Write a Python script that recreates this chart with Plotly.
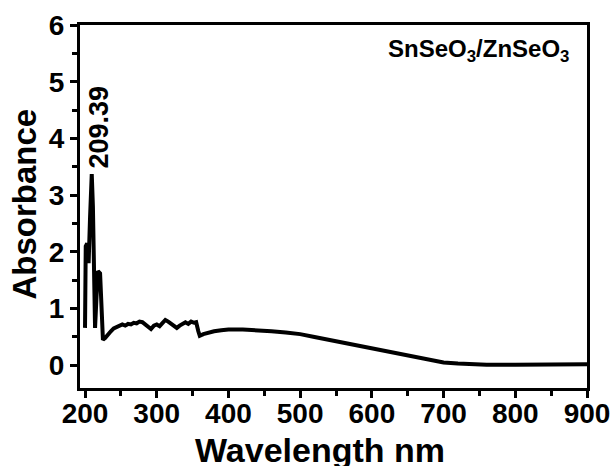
import plotly.graph_objects as go

wavelength = [200, 201, 203, 205, 207, 209.39, 211, 213, 214, 216, 218, 221, 223, 225,
              228, 232, 236, 240, 244, 248, 252, 256, 260, 264, 268, 272, 276, 280, 284,
              288, 292, 296, 300, 304, 308, 312, 316, 320, 324, 328, 332, 336, 340, 344,
              348, 352, 355, 358, 360, 365, 370, 380, 390, 400, 420, 440, 460, 480, 500,
              520, 540, 560, 580, 600, 620, 640, 660, 680, 700, 720, 740, 760, 800, 850,
              880, 890, 900]
absorbance = [0.66, 2.1, 2.15, 1.8, 2.6, 3.37, 2.8, 1.2, 0.66, 1.2, 1.66, 1.62, 0.9, 0.45,
              0.48, 0.55, 0.6, 0.65, 0.68, 0.7, 0.72, 0.7, 0.73, 0.72, 0.75, 0.74, 0.77, 0.76, 0.72,
              0.66, 0.64, 0.7, 0.72, 0.69, 0.76, 0.8, 0.77, 0.73, 0.7, 0.66, 0.7, 0.74, 0.76, 0.73,
              0.77, 0.75, 0.76, 0.6, 0.52, 0.55, 0.57, 0.6, 0.62, 0.63, 0.63, 0.62, 0.6, 0.58, 0.55,
              0.5, 0.45, 0.4, 0.35, 0.29, 0.24, 0.19, 0.14, 0.09, 0.05, 0.03, 0.02, 0.01, 0.01, 0.01,
              0.02, 0.015, 0.02]

peak_label = "209.39"
sample_label = "SnSeO<sub>3</sub>/ZnSeO<sub>3</sub>"
x_title = "Wavelength nm"
y_title = "Absorbance"
x_ticks = [200, 300, 400, 500, 600, 700, 800, 900]
y_ticks = [0, 1, 2, 3, 4, 5, 6]

FONT = "Liberation Sans, Arial, sans-serif"

fig = go.Figure()
fig.add_trace(go.Scatter(x=wavelength, y=absorbance, mode="lines",
                         line=dict(color="black", width=4), showlegend=False))

fig.add_annotation(x=220, y=4.2, xref="x", yref="y", text="<b>" + peak_label + "</b>", textangle=-90,
                   showarrow=False, font=dict(family=FONT, size=27, color="black"))
fig.add_annotation(x=0.968, y=0.93, xref="paper", yref="paper", text="<b>" + sample_label + "</b>",
                   showarrow=False, xanchor="right", yanchor="middle",
                   font=dict(family=FONT, size=24, color="black"))
# axis titles
fig.add_annotation(x=0.473, y=0, xref="paper", yref="paper", yshift=-62, text="<b>" + x_title + "</b>",
                   showarrow=False, xanchor="center", yanchor="middle",
                   font=dict(family=FONT, size=34, color="black"))
fig.add_annotation(x=0, y=0.5, xref="paper", yref="paper", xshift=-56, yshift=2, text="<b>" + y_title + "</b>",
                   textangle=-90, showarrow=False, xanchor="center", yanchor="middle",
                   font=dict(family=FONT, size=33, color="black"))

axis_common = dict(showline=True, linecolor="black", linewidth=3, mirror=True,
                   ticks="outside", tickcolor="black", tickwidth=3, ticklen=7,
                   showgrid=False, zeroline=False, automargin=False,
                   tickfont=dict(family=FONT, size=28, color="black"))

fig.update_xaxes(range=[193, 900], tickvals=x_ticks, ticktext=[f"<b>{v}</b>" for v in x_ticks],
                 ticklabelstandoff=-9,
                 minor=dict(dtick=50, tick0=200, ticks="outside", ticklen=5, tickwidth=3, tickcolor="black"),
                 **axis_common)
fig.update_yaxes(range=[-0.4, 6], tickvals=y_ticks, ticktext=[f"<b>{v}</b>" for v in y_ticks],
                 minor=dict(dtick=0.5, tick0=0, ticks="outside", ticklen=5, tickwidth=3, tickcolor="black"),
                 **axis_common)

fig.update_layout(width=613, height=466, margin=dict(l=80, r=26, t=25, b=78),
                  paper_bgcolor="white", plot_bgcolor="white")

fig.write_html("out.html")
